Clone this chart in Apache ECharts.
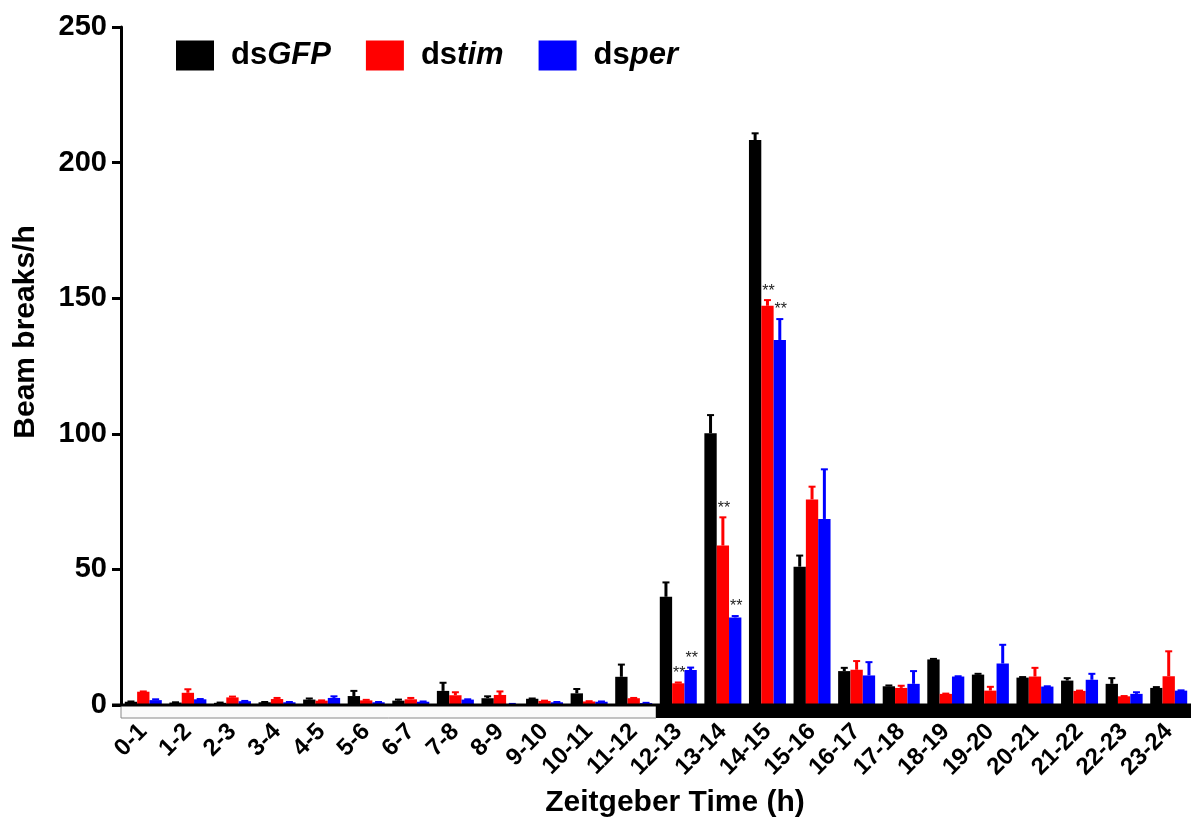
<!DOCTYPE html>
<html>
<head>
<meta charset="utf-8">
<script src="https://cdn.jsdelivr.net/npm/echarts@6/dist/echarts.min.js"></script>
<style>
  html, body { margin: 0; padding: 0; background: #fff; }
  #chart { width: 1191px; height: 825px; }
</style>
</head>
<body>
<div id="chart"></div>
<script>
// ---- data ----
const hours = ['0-1', '1-2', '2-3', '3-4', '4-5', '5-6', '6-7', '7-8', '8-9', '9-10', '10-11', '11-12',
  '12-13', '13-14', '14-15', '15-16', '16-17', '17-18', '18-19', '19-20', '20-21', '21-22', '22-23', '23-24'];

const gfpMean = [1.2, 0.9, 0.8, 1.0, 2.0, 3.3, 1.6, 5.2, 2.5, 2.3, 4.3, 10.4,
  39.9, 100.2, 208.3, 51.0, 12.5, 6.9, 16.8, 11.2, 10.1, 9.0, 7.8, 6.3];
const gfpSem = [0.1, 0.1, 0.1, 0.1, 0.4, 1.9, 0.4, 3.0, 0.7, 0.1, 1.6, 4.5,
  5.3, 6.7, 2.5, 4.1, 1.2, 0.3, 0.2, 0.3, 0.2, 0.9, 2.1, 0.3];

const timMean = [4.9, 4.5, 2.8, 2.2, 1.6, 1.7, 2.1, 3.6, 3.7, 1.5, 1.3, 2.5,
  8.0, 58.8, 147.2, 75.8, 13.0, 6.3, 4.1, 5.3, 10.5, 5.2, 3.2, 10.6];
const timSem = [0.1, 1.3, 0.3, 0.4, 0.1, 0.2, 0.5, 1.1, 1.3, 0.1, 0.1, 0.1,
  0.3, 10.4, 2.1, 4.7, 3.2, 0.8, 0.1, 1.4, 3.2, 0.1, 0.1, 9.2];

const perMean = [1.8, 2.1, 1.4, 1.0, 2.6, 1.0, 1.2, 2.0, 0.3, 1.0, 1.2, 0.7,
  12.9, 32.3, 134.6, 68.6, 10.9, 7.8, 10.5, 15.3, 6.8, 9.3, 4.1, 5.3];
const perSem = [0.3, 0.1, 0.1, 0.1, 0.6, 0.1, 0.1, 0.1, 0.1, 0.1, 0.1, 0.1,
  0.9, 0.5, 7.7, 18.3, 4.9, 4.7, 0.1, 6.9, 0.1, 2.2, 0.6, 0.1];

// ** marks (index of hour bin)
const timSig = [12, 13, 14];
const perSig = [12, 13, 14];

// light / dark bar under the axis: [first bin, last bin + 1, dark?]
const lightDark = [[0, 12, 0], [12, 24, 1]];

const yTicks = { min: 0, max: 250, interval: 50 };

// ---- chart ----
const chart = echarts.init(document.getElementById('chart'));
const FONT = 'Liberation Sans, Arial, sans-serif';
const GAP = 0.17; // barCategoryGap

function errSeries(name, color, mean, sem, sig, slot) {
  return {
    name: name,
    type: 'custom',
    z: 5,
    data: mean.map((m, i) => [i, m, sem[i], sig.indexOf(i) >= 0 ? 1 : 0]),
    renderItem: function (params, api) {
      const band = api.size([1, 0])[0];
      const barW = band * (1 - GAP) / 3;
      const c = api.coord([api.value(0), api.value(1)]);
      const top = api.coord([api.value(0), api.value(1) + api.value(2)]);
      const x = c[0] + slot * barW;
      const kids = [
        { type: 'line', shape: { x1: x, y1: c[1], x2: x, y2: top[1] }, style: { stroke: color, lineWidth: 3 } },
        { type: 'line', shape: { x1: x - 3.5, y1: top[1], x2: x + 3.5, y2: top[1] }, style: { stroke: color, lineWidth: 2 } }
      ];
      if (api.value(3)) {
        kids.push({
          type: 'text', x: x + 1, y: top[1] - 1,
          style: { text: '**', fill: '#222', fontSize: 16, fontFamily: FONT, align: 'center', verticalAlign: 'bottom' }
        });
      }
      return { type: 'group', children: kids };
    }
  };
}

function barSeries(name, color, mean) {
  return {
    name: name,
    type: 'bar',
    data: mean,
    barGap: '0%',
    barCategoryGap: (GAP * 100) + '%',
    itemStyle: { color: color },
    z: 3
  };
}

chart.setOption({
  animation: false,
  textStyle: { fontFamily: FONT },
  legend: {
    left: 171,
    top: 35,
    itemWidth: 38,
    itemHeight: 30,
    itemGap: 35,
    icon: 'rect',
    data: ['dsGFP', 'dstim', 'dsper'],
    formatter: function (name) { return 'ds{i|' + name.slice(2) + '}'; },
    textStyle: {
      fontSize: 31, fontWeight: 'bold', color: '#000', padding: [0, 0, 0, 12],
      rich: { i: { fontSize: 31, fontWeight: 'bold', fontStyle: 'italic', color: '#000' } }
    }
  },
  grid: { left: 121, right: 0, top: 27, bottom: 120 },
  xAxis: {
    type: 'category',
    data: hours,
    offset: 13,
    axisLine: { show: false },
    axisTick: { alignWithLabel: true, length: 10, lineStyle: { color: '#000', width: 3 } },
    axisLabel: { rotate: 45, fontSize: 24, fontWeight: 'bold', color: '#000', margin: 10, interval: 0 },
    name: 'Zeitgeber Time (h)',
    nameLocation: 'middle',
    nameGap: 70,
    nameTextStyle: { fontSize: 30, fontWeight: 'bold', color: '#000', padding: [0, 0, 0, 38] }
  },
  yAxis: {
    type: 'value',
    min: yTicks.min,
    max: yTicks.max,
    interval: yTicks.interval,
    splitLine: { show: false },
    axisLine: { show: true, lineStyle: { color: '#000', width: 3 } },
    axisTick: { show: true, length: 9, lineStyle: { color: '#000', width: 3 } },
    axisLabel: { fontSize: 29, fontWeight: 'bold', color: '#000', margin: 14 },
    name: 'Beam breaks/h',
    nameLocation: 'middle',
    nameGap: 80,
    nameTextStyle: { fontSize: 30, fontWeight: 'bold', color: '#000', padding: [0, 0, 0, 68] }
  },
  series: [
    barSeries('dsGFP', '#000000', gfpMean),
    barSeries('dstim', '#ff0000', timMean),
    barSeries('dsper', '#0000ff', perMean),
    errSeries('dsGFP', '#000000', gfpMean, gfpSem, [], -1),
    errSeries('dstim', '#ff0000', timMean, timSem, timSig, 0),
    errSeries('dsper', '#0000ff', perMean, perSem, perSig, 1),
    {
      type: 'custom',
      silent: true,
      z: 6,
      data: lightDark,
      renderItem: function (params, api) {
        const band = api.size([1, 0])[0];
        const a = api.coord([api.value(0), 0]);
        const b = api.coord([api.value(1) - 1, 0]);
        const x0 = a[0] - band / 2, x1 = b[0] + band / 2;
        const dark = api.value(2) === 1;
        return {
          type: 'group',
          children: [
            { type: 'rect', shape: { x: x0, y: a[1], width: x1 - x0, height: 13 },
              style: dark ? { fill: '#000' } : { fill: '#fafafa', stroke: '#888', lineWidth: 1 } },
            { type: 'line', shape: { x1: dark ? x0 : x0 - 9, y1: a[1], x2: x1, y2: a[1] },
              style: { stroke: '#000', lineWidth: 3 } }
          ]
        };
      }
    }
  ]
});
window.onresize = function () { chart.resize(); };
</script>
</body>
</html>
